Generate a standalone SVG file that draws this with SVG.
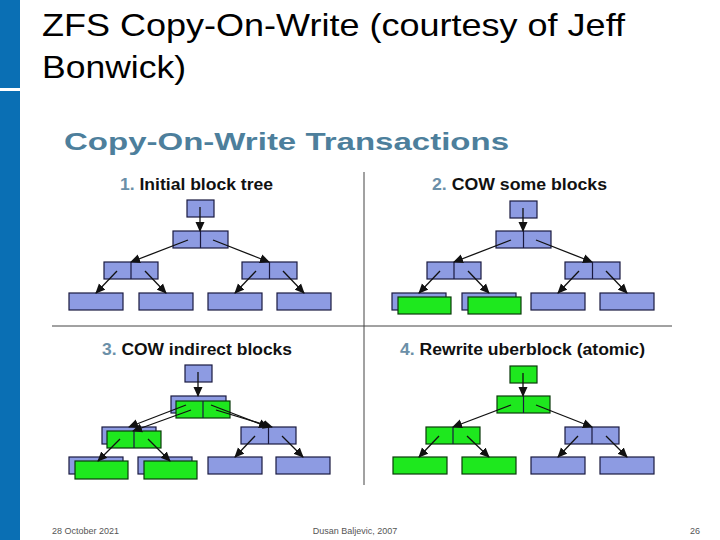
<svg xmlns="http://www.w3.org/2000/svg" width="720" height="540" viewBox="0 0 720 540">
<style>
.b{fill:#8d9be2;stroke:#1a1a40;stroke-width:1.2}
.g{fill:#1ee81e;stroke:#0a3a0a;stroke-width:1.2}
.d{stroke:#1a1a40;stroke-width:1.2}
.c line{stroke:#111;stroke-width:1.3;marker-end:url(#ah)}
.t{font-family:"Liberation Sans",Arial,sans-serif}
.h{font-family:"Liberation Sans",Arial,sans-serif;font-weight:bold;font-size:16px;fill:#111}
.n{fill:#6b8fa8}
</style>
<defs>
<marker id="ah" markerWidth="10" markerHeight="10" refX="9" refY="5" orient="auto" markerUnits="userSpaceOnUse"><path d="M0,0.5 L10,5 L0,9.5 z" fill="#111"/></marker>
</defs>
<rect width="720" height="540" fill="#fff"/>
<rect x="0" y="0" width="20" height="540" fill="#0a6fb4"/>
<rect x="0" y="88" width="60" height="3" fill="#fff"/>
<text class="t" x="42" y="36" font-size="32" fill="#000" textLength="583" lengthAdjust="spacingAndGlyphs">ZFS Copy-On-Write (courtesy of Jeff</text>
<text class="t" x="42" y="78" font-size="32" fill="#000" textLength="144" lengthAdjust="spacingAndGlyphs">Bonwick)</text>
<text class="t" x="64" y="150" font-size="24" font-weight="bold" fill="#4d7f9c" textLength="445" lengthAdjust="spacingAndGlyphs">Copy-On-Write Transactions</text>
<line x1="364" y1="172" x2="364" y2="485" stroke="#444" stroke-width="1"/>
<line x1="52" y1="326" x2="672" y2="326" stroke="#444" stroke-width="1"/>
<text class="h" x="120" y="190" textLength="153" lengthAdjust="spacingAndGlyphs"><tspan class="n">1.</tspan> Initial block tree</text>
<text class="h" x="432" y="190" textLength="175" lengthAdjust="spacingAndGlyphs"><tspan class="n">2.</tspan> COW some blocks</text>
<text class="h" x="102" y="355" textLength="190" lengthAdjust="spacingAndGlyphs"><tspan class="n">3.</tspan> COW indirect blocks</text>
<text class="h" x="400" y="355" textLength="245" lengthAdjust="spacingAndGlyphs"><tspan class="n">4.</tspan> Rewrite uberblock (atomic)</text>

<g id="q1">
<g id="q1-root"><rect class="b" x="187" y="200" width="27" height="17"/></g>
<g id="q1-mid"><rect class="b" x="173" y="231" width="55" height="17"/><line class="d" x1="200.5" y1="231" x2="200.5" y2="248"/></g>
<g id="q1-l"><rect class="b" x="104" y="262" width="54" height="17"/><line class="d" x1="131" y1="262" x2="131" y2="279"/></g>
<g id="q1-r"><rect class="b" x="242" y="262" width="55" height="17"/><line class="d" x1="269.5" y1="262" x2="269.5" y2="279"/></g>
<g id="q1-a"><rect class="b" x="69" y="293" width="54" height="17"/></g>
<g id="q1-b"><rect class="b" x="139" y="293" width="54" height="17"/></g>
<g id="q1-c"><rect class="b" x="208" y="293" width="54" height="17"/></g>
<g id="q1-e"><rect class="b" x="277" y="293" width="54" height="17"/></g>
</g>

<g id="q2" transform="translate(323,1)">
<g id="q2-root"><rect class="b" x="187" y="200" width="27" height="17"/></g>
<g id="q2-mid"><rect class="b" x="173" y="230" width="55" height="17"/><line class="d" x1="200.5" y1="230" x2="200.5" y2="247"/></g>
<g id="q2-l"><rect class="b" x="104" y="261" width="54" height="17"/><line class="d" x1="131" y1="261" x2="131" y2="278"/></g>
<g id="q2-r"><rect class="b" x="242" y="261" width="55" height="17"/><line class="d" x1="269.5" y1="261" x2="269.5" y2="278"/></g>
<g id="q2-a"><rect class="b" x="69" y="292" width="54" height="17"/><rect class="g" x="75" y="296" width="53" height="17"/></g>
<g id="q2-b"><rect class="b" x="139" y="292" width="54" height="17"/><rect class="g" x="145" y="296" width="53" height="17"/></g>
<g id="q2-c"><rect class="b" x="208" y="292" width="54" height="17"/></g>
<g id="q2-e"><rect class="b" x="277" y="292" width="54" height="17"/></g>
</g>

<g id="q3" transform="translate(-2,165)">
<g id="q3-root"><rect class="b" x="187" y="200" width="27" height="17"/></g>
<g id="q3-mid"><rect class="b" x="173" y="231" width="55" height="17"/><rect class="g" x="178" y="236" width="54" height="17"/><line class="d" x1="205" y1="236" x2="205" y2="253"/></g>
<g id="q3-l"><rect class="b" x="104" y="262" width="54" height="17"/><rect class="g" x="109" y="266" width="54" height="17"/><line class="d" x1="136" y1="266" x2="136" y2="283"/></g>
<g id="q3-r"><rect class="b" x="243" y="262" width="55" height="17"/><line class="d" x1="270.5" y1="262" x2="270.5" y2="279"/></g>
<g id="q3-a"><rect class="b" x="71" y="292" width="54" height="17"/><rect class="g" x="77" y="296" width="53" height="18"/></g>
<g id="q3-b"><rect class="b" x="140" y="292" width="54" height="17"/><rect class="g" x="146" y="296" width="53" height="18"/></g>
<g id="q3-c"><rect class="b" x="210" y="292" width="54" height="17"/></g>
<g id="q3-e"><rect class="b" x="278" y="292" width="54" height="17"/></g>
</g>

<g id="q4" transform="translate(323,166)">
<g id="q4-root"><rect class="g" x="187" y="200" width="27" height="17"/></g>
<g id="q4-mid"><rect class="g" x="174" y="230" width="53" height="17"/><line class="d" x1="200.5" y1="230" x2="200.5" y2="247"/></g>
<g id="q4-l"><rect class="g" x="103" y="261" width="54" height="17"/><line class="d" x1="130" y1="261" x2="130" y2="278"/></g>
<g id="q4-r"><rect class="b" x="242" y="261" width="54" height="17"/><line class="d" x1="269" y1="261" x2="269" y2="278"/></g>
<g id="q4-a"><rect class="g" x="70" y="291" width="54" height="17"/></g>
<g id="q4-b"><rect class="g" x="139" y="291" width="54" height="17"/></g>
<g id="q4-c"><rect class="b" x="208" y="291" width="54" height="17"/></g>
<g id="q4-e"><rect class="b" x="277" y="291" width="54" height="17"/></g>
</g>

<g id="connectors" class="c">
<g>
<line x1="200" y1="207" x2="200" y2="231"/><line x1="188" y1="240" x2="131" y2="262"/><line x1="213" y1="240" x2="269" y2="262"/>
<line x1="117" y1="271" x2="96" y2="293"/><line x1="145" y1="271" x2="166" y2="293"/><line x1="256" y1="271" x2="235" y2="293"/><line x1="283" y1="271" x2="304" y2="293"/>
</g>
<g transform="translate(323,1)">
<line x1="200" y1="207" x2="200" y2="230"/><line x1="188" y1="239" x2="131" y2="261"/><line x1="213" y1="239" x2="269" y2="261"/>
<line x1="117" y1="270" x2="96" y2="292"/><line x1="145" y1="270" x2="166" y2="292"/><line x1="256" y1="270" x2="235" y2="292"/><line x1="283" y1="270" x2="304" y2="292"/>
</g>
<g transform="translate(-2,165)">
<line x1="200" y1="207" x2="200" y2="231"/><line x1="188" y1="240" x2="131" y2="262"/><line x1="213" y1="240" x2="270" y2="262"/>
<line x1="193" y1="245" x2="135" y2="266"/><line x1="218" y1="245" x2="274" y2="262"/>
<line x1="122" y1="274" x2="100" y2="296"/><line x1="150" y1="274" x2="172" y2="296"/><line x1="257" y1="271" x2="237" y2="292"/><line x1="284" y1="271" x2="305" y2="292"/>
</g>
<g transform="translate(323,166)">
<line x1="200" y1="207" x2="200" y2="230"/><line x1="188" y1="239" x2="130" y2="261"/><line x1="213" y1="239" x2="269" y2="261"/>
<line x1="116" y1="270" x2="96" y2="291"/><line x1="144" y1="270" x2="166" y2="291"/><line x1="255" y1="270" x2="235" y2="291"/><line x1="283" y1="270" x2="304" y2="291"/>
</g>
</g>

<text class="t" x="52" y="534" font-size="9" fill="#555">28 October 2021</text>
<text class="t" x="355" y="534" font-size="9" fill="#555" text-anchor="middle">Dusan Baljevic, 2007</text>
<text class="t" x="700" y="534" font-size="9" fill="#555" text-anchor="end">26</text>
</svg>
